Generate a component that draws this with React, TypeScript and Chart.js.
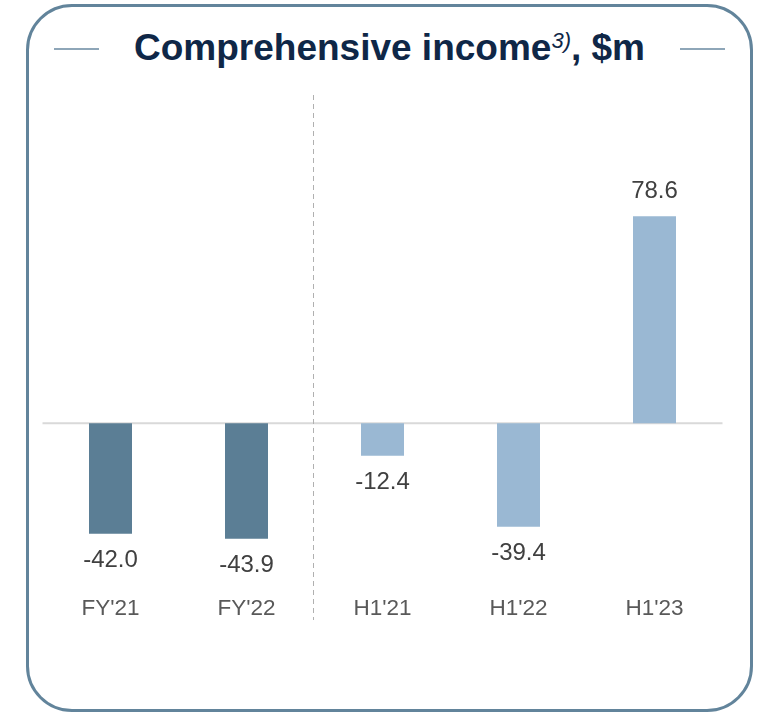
import React, { useEffect, useRef } from "react";
import { Chart, registerables } from "chart.js";

Chart.register(...registerables);

const categories: string[] = ["FY'21", "FY'22", "H1'21", "H1'22", "H1'23"];
const values: number[] = [-42.0, -43.9, -12.4, -39.4, 78.6];
const valueLabels: string[] = ["-42.0", "-43.9", "-12.4", "-39.4", "78.6"];
const barColors: string[] = ["#5b7e95", "#5b7e95", "#9ab8d3", "#9ab8d3", "#9ab8d3"];
const dividerAfterIndex = 1;

const FONT = "'Liberation Sans', Arial, Helvetica, sans-serif";

const overlayPlugin = {
  id: "overlay",
  beforeDatasetsDraw(chart: any) {
    const { ctx, chartArea, scales } = chart;
    const y0 = scales.y.getPixelForValue(0);
    ctx.save();
    ctx.strokeStyle = "#d9d9d9";
    ctx.lineWidth = 2;
    ctx.beginPath();
    ctx.moveTo(chartArea.left, y0);
    ctx.lineTo(chartArea.right, y0);
    ctx.stroke();
    // dashed divider
    const xa = scales.x.getPixelForValue(dividerAfterIndex);
    const xb = scales.x.getPixelForValue(dividerAfterIndex + 1);
    const xd = Math.round((xa + xb) / 2) - 1.5;
    ctx.strokeStyle = "#b0b0b0";
    ctx.lineWidth = 1;
    ctx.setLineDash([5, 4]);
    ctx.beginPath();
    ctx.moveTo(xd, 14);
    ctx.lineTo(xd, 539);
    ctx.stroke();
    ctx.restore();
  },
  afterDatasetsDraw(chart: any) {
    const { ctx } = chart;
    const meta = chart.getDatasetMeta(0);
    ctx.save();
    ctx.font = `24px ${FONT}`;
    ctx.fillStyle = "#404040";
    ctx.textAlign = "center";
    ctx.textBaseline = "middle";
    meta.data.forEach((bar: any, i: number) => {
      const v = values[i];
      const y = v >= 0 ? bar.y - 25 : bar.y + 27;
      ctx.fillText(valueLabels[i], bar.x, y);
    });
    ctx.restore();
  },
};

export default function App() {
  const canvasRef = useRef<HTMLCanvasElement | null>(null);

  useEffect(() => {
    if (!canvasRef.current) return;
    const chart = new Chart(canvasRef.current, {
      type: "bar",
      data: {
        labels: categories,
        datasets: [
          {
            data: values,
            backgroundColor: barColors,
            borderWidth: 0,
            categoryPercentage: 1,
            barPercentage: 43 / 136,
          },
        ],
      },
      options: {
        animation: false,
        responsive: false,
        maintainAspectRatio: false,
        devicePixelRatio: 1,
        layout: { padding: { left: 42.5, right: 34.5, top: 52.6, bottom: 4.9 } },
        plugins: {
          legend: { display: false },
          title: { display: false },
          tooltip: { enabled: false },
        },
        scales: {
          x: {
            grid: { display: false, drawTicks: false },
            border: { display: false },
            ticks: {
              color: "#595959",
              font: { family: FONT, size: 22.5 },
              padding: 14,
              maxRotation: 0,
            },
          },
          y: {
            display: false,
            min: -60,
            max: 110,
          },
        },
      },
      plugins: [overlayPlugin],
    });
    return () => chart.destroy();
  }, []);

  return (
    <div style={{ position: "absolute", left: 0, top: 0, width: 757, height: 714, background: "#fff", fontFamily: FONT }}>
      <div
        style={{
          position: "absolute",
          left: 26,
          top: 4,
          width: 727,
          height: 708,
          boxSizing: "border-box",
          border: "3px solid #62849b",
          borderRadius: 46,
        }}
      />
      <div style={{ position: "absolute", left: 54, top: 48, width: 45, height: 2, background: "#8ea6b8" }} />
      <div style={{ position: "absolute", left: 680, top: 48, width: 45, height: 2, background: "#8ea6b8" }} />
      <div
        style={{
          position: "absolute",
          left: 0,
          width: 779,
          top: 19,
          textAlign: "center",
          fontWeight: "bold",
          fontSize: 37,
          lineHeight: "44px",
          color: "#0f2747",
          whiteSpace: "nowrap",
        }}
      >
        Comprehensive income
        <span style={{ fontStyle: "italic", fontWeight: "normal", fontSize: 22, verticalAlign: "12px" }}>3)</span>, $m
      </div>
      <canvas
        ref={canvasRef}
        width={757}
        height={560}
        style={{ position: "absolute", left: 0, top: 81, width: 757, height: 560 }}
      />
    </div>
  );
}
